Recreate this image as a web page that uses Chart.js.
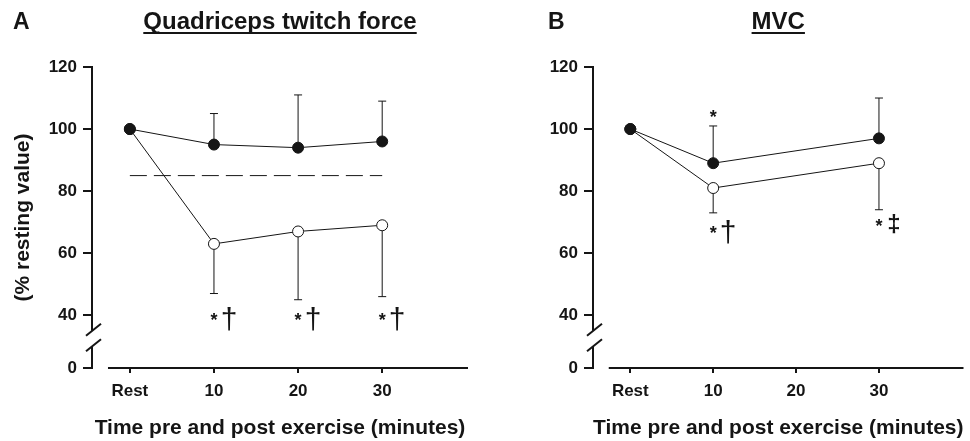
<!DOCTYPE html>
<html lang="en">
<head>
<meta charset="UTF-8">
<title>Quadriceps twitch force and MVC</title>
<script src="https://cdn.jsdelivr.net/npm/chart.js@4.4.4/dist/chart.umd.min.js"></script>
<style>
    body { margin: 0; background: #fff; width: 970px; height: 441px; overflow: hidden; position: relative; }
    canvas { position: absolute; top: 0; }
    #panelA { left: 0; }
    #panelB { left: 485px; }
</style>
</head>
<body>
<canvas id="panelA" width="485" height="441"></canvas>
<canvas id="panelB" width="485" height="441"></canvas>
<script>
// x positions (minutes) and their labels
const timePoints = [0, 10, 20, 30];
const timeLabels = ['Rest', '10', '20', '30'];
const yTickValues = [0, 40, 60, 80, 100, 120];

// A: quadriceps twitch force, % resting value
const twitchFilled = [100, 95, 94, 96];
const twitchFilledTop = [null, 105, 111, 109];
const twitchOpen = [100, 63, 67, 69];
const twitchOpenBottom = [null, 47, 45, 46];
const twitchThreshold = 85;
const twitchMarks = [
    { x: 10, y: 39.5, text: '*†' },
    { x: 20, y: 39.5, text: '*†' },
    { x: 30, y: 39.5, text: '*†' }
];

// B: MVC, % resting value (no 20 min measurement)
const mvcFilled = [100, 89, null, 97];
const mvcFilledTop = [null, 101, null, 110];
const mvcOpen = [100, 81, null, 89];
const mvcOpenBottom = [null, 73, null, 74];
const mvcMarks = [
    { x: 10, y: 105, text: '*' },
    { x: 10, y: 67.5, text: '*†' },
    { x: 30, y: 70, text: '*‡' }
];

const INK = '#151515';
const FONT = '"Liberation Sans", Arial, sans-serif';
const Y_ZERO_AT = 23;      // broken axis: the "0" tick sits here
const X_LINE_START = -2.6; // x axis line starts a bit right of the y axis

function pts(arr) {
    return timePoints.map((t, i) => ({ x: t, y: arr[i] }));
}

const panelDecor = {
    id: 'panelDecor',
    beforeDatasetsDraw(chart) {
        const { ctx, scales: { x, y } } = chart;
        const cfg = chart.options.panel;
        ctx.save();
        ctx.strokeStyle = INK;
        ctx.lineWidth = 1;
        cfg.errors.forEach(e => {
            e.values.forEach((v, i) => {
                const b = e.bound[i];
                if (v == null || b == null) return;
                const px = x.getPixelForValue(timePoints[i]);
                const y0 = y.getPixelForValue(v);
                const y1 = y.getPixelForValue(b);
                ctx.beginPath();
                ctx.moveTo(px, y0);
                ctx.lineTo(px, y1);
                ctx.moveTo(px - 4, y1);
                ctx.lineTo(px + 4, y1);
                ctx.stroke();
            });
        });
        ctx.restore();
    },
    afterDraw(chart) {
        const { ctx, chartArea, scales: { x, y } } = chart;
        const cfg = chart.options.panel;
        ctx.save();
        ctx.fillStyle = INK;
        ctx.strokeStyle = INK;

        // panel letter
        ctx.font = 'bold 23px ' + FONT;
        ctx.textAlign = 'left';
        ctx.textBaseline = 'middle';
        ctx.fillText(cfg.letter, cfg.letterX, 23);

        // underlined title
        ctx.font = 'bold 24px ' + FONT;
        ctx.textAlign = 'center';
        const cx = (chartArea.left + chartArea.right) / 2;
        ctx.fillText(cfg.title, cx, 22);
        const w = ctx.measureText(cfg.title).width;
        ctx.fillRect(cx - w / 2, 32, w, 2);

        // x axis line, detached from the y axis
        ctx.lineWidth = 2;
        ctx.beginPath();
        ctx.moveTo(x.getPixelForValue(X_LINE_START), chartArea.bottom);
        ctx.lineTo(chartArea.right, chartArea.bottom);
        ctx.stroke();

        // axis break
        const ax = chartArea.left;
        const bTop = y.getPixelForValue(35);
        const bBot = y.getPixelForValue(30);
        ctx.fillStyle = '#fff';
        ctx.fillRect(ax - 3, bTop, 6, bBot - bTop);
        [bTop, bBot].forEach(by => {
            ctx.beginPath();
            ctx.moveTo(ax - 6, by + 5);
            ctx.lineTo(ax + 9, by - 7);
            ctx.stroke();
        });

        // significance marks
        ctx.fillStyle = INK;
        ctx.textAlign = 'center';
        ctx.textBaseline = 'alphabetic';
        cfg.marks.forEach(m => {
            const px = x.getPixelForValue(m.x);
            const py = y.getPixelForValue(m.y);
            [...m.text].forEach((ch, k) => {
                if (ch === '*') ctx.font = 'bold 18px ' + FONT;
                else if (ch === '‡') ctx.font = 'bold 24px ' + FONT;
                else ctx.font = '30px ' + FONT;
                const mt = ctx.measureText(ch);
                const gy = py + (mt.actualBoundingBoxAscent - mt.actualBoundingBoxDescent) / 2 + (k ? 2 : 0);
                ctx.fillText(ch, px + k * 15, gy);
            });
        });
        ctx.restore();
    }
};

function buildPanel(id, cfg) {
    const tickFont = { family: FONT, size: 17, weight: 'bold' };
    const titleFont = { family: FONT, size: 21, weight: 'bold' };
    const datasets = [
        {
            data: pts(cfg.filled), borderColor: INK, borderWidth: 1, spanGaps: true,
            pointRadius: 5.5, pointBackgroundColor: INK, pointBorderColor: INK, pointBorderWidth: 1
        },
        {
            data: pts(cfg.open), borderColor: INK, borderWidth: 1, spanGaps: true,
            pointRadius: 5.5, pointBackgroundColor: '#fff', pointBorderColor: INK, pointBorderWidth: 1
        }
    ];
    if (cfg.threshold != null) {
        datasets.push({
            data: [{ x: timePoints[0], y: cfg.threshold }, { x: timePoints[timePoints.length - 1], y: cfg.threshold }],
            borderColor: INK, borderWidth: 1, borderDash: [17, 7], pointRadius: 0
        });
    }
    return new Chart(document.getElementById(id), {
        type: 'line',
        data: { datasets: datasets },
        options: {
            responsive: false,
            animation: false,
            events: [],
            panel: cfg,
            layout: { padding: { top: 67, right: cfg.padRight, bottom: 0, left: 0 } },
            plugins: { legend: { display: false }, tooltip: { enabled: false } },
            scales: {
                x: {
                    type: 'linear', min: -4.5, max: 40.2,
                    afterBuildTicks: s => { s.ticks = timePoints.map(v => ({ value: v })); },
                    afterFit: s => { s.height = 73; },
                    border: { display: false },
                    grid: { drawOnChartArea: false, tickLength: 5, color: INK, lineWidth: 2 },
                    ticks: {
                        padding: 8, color: INK, font: tickFont, autoSkip: false, maxRotation: 0,
                        callback: v => timeLabels[timePoints.indexOf(v)]
                    },
                    title: {
                        display: true, text: 'Time pre and post exercise (minutes)',
                        color: INK, font: titleFont, padding: 0
                    }
                },
                y: {
                    min: Y_ZERO_AT, max: 120,
                    afterBuildTicks: s => { s.ticks = yTickValues.map(v => ({ value: v === 0 ? Y_ZERO_AT : v })); },
                    afterFit: s => { s.width = cfg.axisWidth; },
                    border: { display: true, color: INK, width: 2 },
                    grid: { drawOnChartArea: false, tickLength: 9, color: INK, lineWidth: 2 },
                    ticks: {
                        padding: 6, color: INK, font: tickFont,
                        callback: v => v === Y_ZERO_AT ? '0' : String(v)
                    },
                    title: {
                        display: !!cfg.yTitle, text: cfg.yTitle || '',
                        color: INK, font: titleFont, padding: { top: 11, bottom: 0 }
                    }
                }
            }
        },
        plugins: [panelDecor]
    });
}

buildPanel('panelA', {
    letter: 'A', letterX: 13, title: 'Quadriceps twitch force', yTitle: '(% resting value)',
    axisWidth: 92, padRight: 17,
    filled: twitchFilled, open: twitchOpen, threshold: twitchThreshold,
    errors: [{ values: twitchFilled, bound: twitchFilledTop }, { values: twitchOpen, bound: twitchOpenBottom }],
    marks: twitchMarks
});

buildPanel('panelB', {
    letter: 'B', letterX: 63, title: 'MVC', yTitle: null,
    axisWidth: 108, padRight: 2,
    filled: mvcFilled, open: mvcOpen, threshold: null,
    errors: [{ values: mvcFilled, bound: mvcFilledTop }, { values: mvcOpen, bound: mvcOpenBottom }],
    marks: mvcMarks
});
</script>
</body>
</html>
